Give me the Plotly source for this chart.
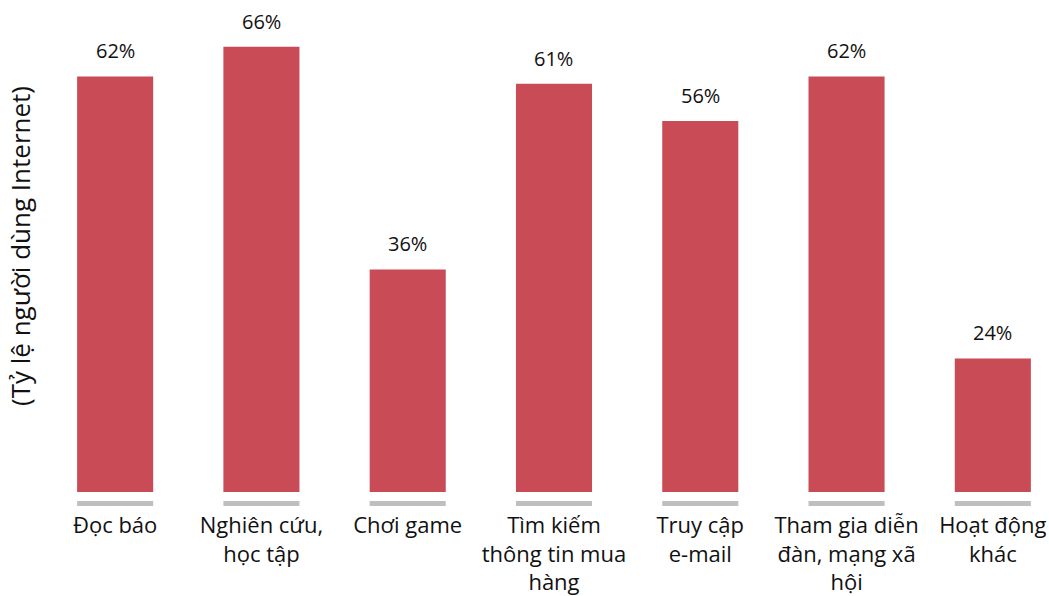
import plotly.graph_objects as go

categories = ["Đọc báo", "Nghiên cứu,<br>học tập", "Chơi game", "Tìm kiếm<br>thông tin mua<br>hàng",
              "Truy cập<br>e-mail", "Tham gia diễn<br>đàn, mạng xã<br>hội", "Hoạt động<br>khác"]
values = [62, 66, 36, 61, 56, 62, 24]
value_labels = ["62%", "66%", "36%", "61%", "56%", "62%", "24%"]
y_title = "(Tỷ lệ người dùng Internet)"

FONT = "Open Sans"
BAR = "#C84B55"
GREY = "#BFBFBF"

x = list(range(len(categories)))
fig = go.Figure()
fig.add_trace(go.Bar(x=x, y=values, width=0.52, marker=dict(color=BAR, line=dict(width=0)),
                     hoverinfo="skip"))

for xi, v, t in zip(x, values, value_labels):
    fig.add_annotation(x=xi, y=v, text=t, showarrow=False, yanchor="bottom", yshift=10,
                       font=dict(family=FONT, size=20, color="#111111"))
    fig.add_shape(type="rect", xref="x", yref="paper", x0=xi - 0.26, x1=xi + 0.26,
                  y0=-0.0285, y1=-0.0185, fillcolor=GREY, line=dict(width=0), layer="above")

fig.update_layout(
    width=1049, height=596,
    margin=dict(l=42, r=0, t=0, b=102),
    plot_bgcolor="white", paper_bgcolor="white",
    showlegend=False,
    font=dict(family=FONT, size=22, color="#111111"),
    xaxis=dict(tickmode="array", tickvals=x, ticktext=categories, range=[-0.5, 6.384],
               showgrid=False, zeroline=False, showline=False, ticks="",
               ticklabelstandoff=18, tickfont=dict(family=FONT, size=22, color="#111111")),
    yaxis=dict(range=[6, 72.3], showticklabels=False, showgrid=False, zeroline=False,
               showline=False, ticks="",
               title=dict(text=y_title, standoff=2, font=dict(family=FONT, size=26, color="#111111"))),
)
fig.write_html("out.html")
